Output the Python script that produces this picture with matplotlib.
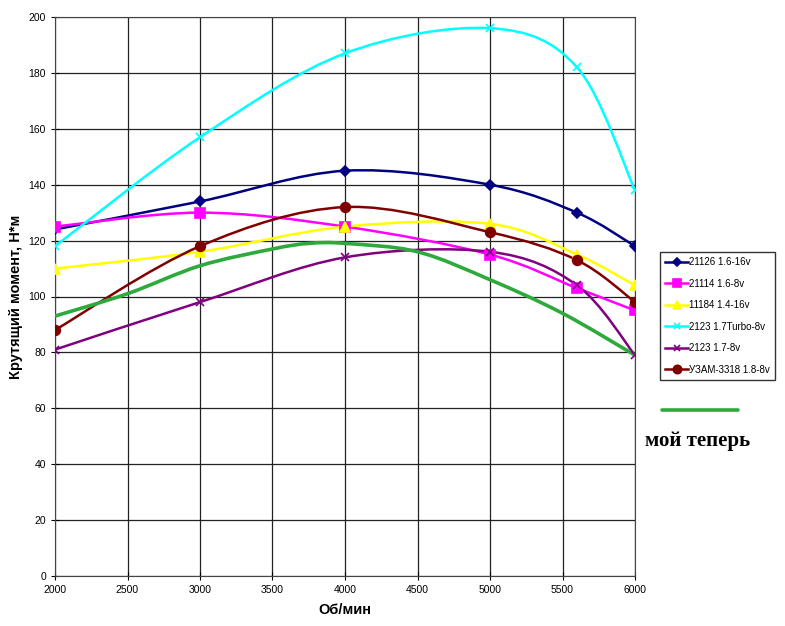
import numpy as np
import matplotlib
matplotlib.use("Agg")
import matplotlib.pyplot as plt
from matplotlib.path import Path
from matplotlib.patches import PathPatch
from matplotlib.lines import Line2D

rpm = [2000, 3000, 4000, 5000, 5600, 6000]
s21126 = [124, 134, 145, 140, 130, 118]
s21114 = [125, 130, 125, 115, 103, 95]
s11184 = [110, 116, 125, 126, 115, 104]
sturbo = [118, 157, 187, 196, 182, 138]
s2123 = [81, 98, 114, 116, 104, 79]
suzam = [88, 118, 132, 123, 113, 98]
mine_rpm = [2000, 2500, 3000, 3500, 3750, 4000, 4500, 5000, 5500, 6000]
mine = [93, 101, 111, 117, 119, 119, 116, 106, 94, 79]

labels = ["21126 1.6-16v", "21114 1.6-8v", "11184 1.4-16v", "2123 1.7Turbo-8v",
          "2123 1.7-8v", "УЗАМ-3318 1.8-8v"]
series = [s21126, s21114, s11184, sturbo, s2123, suzam]
colors = ["#000080", "#FF00FF", "#FFFF00", "#00FFFF", "#800080", "#800000"]
markers = ["D", "s", "^", "x", "x", "o"]
msizes = [5, 7, 7, 6, 6, 7]

plt.rcParams['font.family'] = ['Liberation Sans', 'DejaVu Sans']

fig = plt.figure(figsize=(7.85, 6.26), dpi=100)
ax = fig.add_axes([55/785, 50/626, 580/785, 559/626])


def smooth_path(xs, ys, k=1/6):
    xs = np.asarray(xs, float); ys = np.asarray(ys, float)
    n = len(xs)
    verts = [(xs[0], ys[0])]
    codes = [Path.MOVETO]
    for i in range(n - 1):
        p0 = np.array([xs[max(i-1, 0)], ys[max(i-1, 0)]])
        p1 = np.array([xs[i], ys[i]])
        p2 = np.array([xs[i+1], ys[i+1]])
        p3 = np.array([xs[min(i+2, n-1)], ys[min(i+2, n-1)]])
        c1 = p1 + (p2 - p0) * k
        c2 = p2 - (p3 - p1) * k
        verts += [tuple(c1), tuple(c2), tuple(p2)]
        codes += [Path.CURVE4] * 3
    return Path(verts, codes)


handles = []
for ys, c, m, ms, lab in zip(series, colors, markers, msizes, labels):
    ax.add_patch(PathPatch(smooth_path(rpm, ys), facecolor='none', edgecolor=c, lw=1.8, zorder=3))
    ax.plot(rpm, ys, ls='none', marker=m, color=c, ms=ms, mew=1.2, zorder=4)
    handles.append(Line2D([], [], color=c, lw=1.8, marker=m, ms=ms - 1, mew=1.2, label=lab))

ax.add_patch(PathPatch(smooth_path(mine_rpm, mine), facecolor='none', edgecolor='#2EAA3C', lw=2.6, zorder=3.5))

ax.set_xlim(2000, 6000)
ax.set_ylim(0, 200)
ax.set_xticks(np.arange(2000, 6001, 500))
ax.set_yticks(np.arange(0, 201, 20))
ax.grid(True, color='#222222', lw=0.9)
ax.set_axisbelow(True)
ax.tick_params(direction='inout', length=6, labelsize=7.5, width=0.8)
for sp in ax.spines.values():
    sp.set_color('#444444')
ax.set_xlabel("Об/мин", fontsize=10.5, fontweight='bold', labelpad=6)
ax.set_ylabel("Крутящий момент, Н*м", fontsize=10.5, fontweight='bold', labelpad=4)

leg = fig.legend(handles=handles, loc='upper left', bbox_to_anchor=(660/785, 1 - 252/626),
                 frameon=True, fancybox=False, edgecolor='black', fontsize=7,
                 handlelength=2.3, labelspacing=1.18, borderpad=0.55, handletextpad=0.15,
                 borderaxespad=0)
leg.get_frame().set_linewidth(1.0)

fig.add_artist(Line2D([662/785, 738/785], [1 - 410/626, 1 - 410/626], color='#2EAA3C', lw=2.6,
                      solid_capstyle='round', transform=fig.transFigure))
fig.text(698/785, 1 - 441/626, "мой теперь", family=['Liberation Serif', 'DejaVu Serif'],
         fontsize=15, fontweight='bold', ha='center', va='center')

fig.savefig("out.png", dpi=100)
